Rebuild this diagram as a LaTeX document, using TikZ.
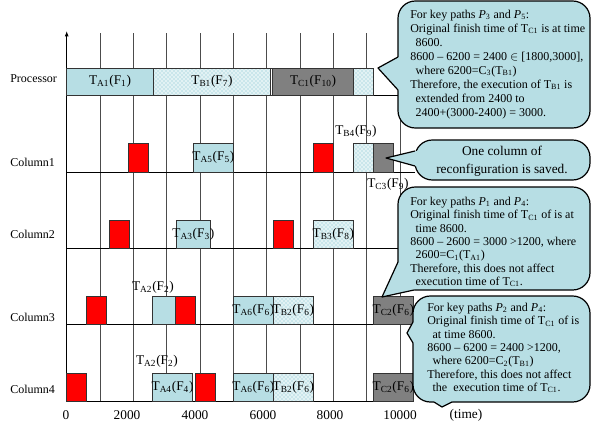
\documentclass[tikz,border=0pt]{standalone}
\usepackage{fontspec}
\setmainfont{Liberation Serif}
\usetikzlibrary{patterns,arrows.meta}

\definecolor{paleblue}{RGB}{183,222,228}
\definecolor{hatchblue}{RGB}{125,192,206}
\definecolor{hatchbg}{RGB}{226,242,244}
\definecolor{slotgray}{RGB}{128,128,128}

\tikzset{
  taskA/.style={draw=black!80, line width=0.6pt, fill=paleblue},
  taskB/.style={draw=black!80, line width=0.6pt, preaction={fill=hatchbg}, pattern=crosshatch dots, pattern color=hatchblue},
  taskC/.style={draw=black!80, line width=0.6pt, fill=slotgray},
  reconf/.style={draw=black!80, line width=0.6pt, fill=red},
  gapbox/.style={draw=black!80, line width=0.6pt, fill=white},
  tlabel/.style={font=\fontsize{10}{12}\selectfont, inner sep=0pt},
  rowlabel/.style={font=\fontsize{9}{11}\selectfont, anchor=west, inner sep=0pt},
  ticklabel/.style={font=\fontsize{10}{12}\selectfont, inner sep=0pt},
  gridline/.style={black!70, line width=0.6pt},
  rowline/.style={black, line width=0.7pt},
  axisline/.style={black, line width=0.7pt, -{Latex[length=4pt,width=3pt]}},
  bubble/.style={fill=paleblue, draw=black, line width=0.9pt, rounded corners=13},
  tailline/.style={draw=black, line width=0.9pt, line join=round},
  bubbletext/.style={align=left, anchor=north west, inner sep=0pt},
}

% task label: T_x(F_y)
\newcommand\Tf[2]{T\textsubscript{#1}(F\textsubscript{#2})}
% boxes on the time axis: name, style, start, end (time units), top, bottom (px)
\newcommand\plainbox[6]{%
  \node[#2, anchor=north west, inner sep=0pt, outer sep=0pt,
        minimum width={((#4)-(#3))*0.025pt}, minimum height={((#6)-(#5))*0.75pt}]
        (#1) at ({66.7+(#3)/30},#5) {};}
\newcommand\taskbox[7]{%
  \plainbox{#1}{#2}{#3}{#4}{#5}{#6}%
  \node[tlabel] (#1-t) at (#1.center) {#7};}

\begin{document}
\begin{tikzpicture}[x=0.75pt,y=-0.75pt]
\useasboundingbox (0,0) rectangle (592,425);

% time grid, one line every 1000
\foreach \k in {1,...,10}
  \draw[gridline] ({66.7+\k*33.333},33) -- ({66.7+\k*33.333},401);

% vertical axis
\coordinate (origin) at (66.7,401);
\coordinate (axtop) at (66.7,31);
\draw[axisline] (origin) -- (axtop);

% row base lines
\draw[rowline] (66.7,95) -- (400,95);
\draw[rowline] (66.7,172) -- (415,172);
\draw[rowline] (66.7,248) -- (398,248);
\draw[rowline] (66.7,324) -- (413,324);
\draw[rowline] (66.7,401) -- (413,401);

% row names
\node[rowlabel] (lproc) at (10,79) {Processor};
\node[rowlabel] (lcol1) at (10,162) {Column1};
\node[rowlabel] (lcol2) at (10,234) {Column2};
\node[rowlabel] (lcol3) at (10,317) {Column3};
\node[rowlabel] (lcol4) at (10,389) {Column4};

% processor
\taskbox{ta1}{taskA}{0}{2600}{68}{95}{\Tf{A1}{1}}
\taskbox{tb1}{taskB}{2600}{6120}{68}{95}{\Tf{B1}{7}}
\plainbox{gp}{gapbox}{6120}{6180}{68}{95}
\taskbox{tc1}{taskC}{6180}{8600}{68}{95}{\Tf{C1}{10}}
\plainbox{tbx}{taskB}{8600}{9200}{68}{95}

% column 1
\plainbox{r11}{reconf}{1850}{2450}{143}{172}
\taskbox{ta5}{taskA}{3800}{5000}{143}{172}{\Tf{A5}{5}}
\plainbox{r12}{reconf}{7400}{8000}{143}{172}
\plainbox{tb4}{taskB}{8600}{9200}{143}{172}
\plainbox{tc3}{taskC}{9200}{9800}{143}{172}
\node[tlabel] (tb4-t) at (356,131) {\Tf{B4}{9}};
\node[tlabel] (tc3-t) at (388,184) {\Tf{C3}{9}};

% column 2
\plainbox{r21}{reconf}{1270}{1870}{220}{248}
\taskbox{ta3}{taskA}{3300}{4300}{220}{248}{\Tf{A3}{3}}
\plainbox{r22}{reconf}{6200}{6800}{220}{248}
\taskbox{tb3}{taskB}{7400}{8600}{220}{248}{\Tf{B3}{8}}

% column 3
\plainbox{r31}{reconf}{600}{1200}{296}{324}
\plainbox{ta2}{taskA}{2570}{3270}{296}{324}
\plainbox{r32}{reconf}{3270}{3870}{296}{324}
\taskbox{ta6a}{taskA}{5000}{6200}{296}{324}{\Tf{A6}{6}}
\taskbox{tb2a}{taskB}{6200}{7400}{296}{324}{\Tf{B2}{6}}
\taskbox{tc2a}{taskC}{9200}{10400}{296}{324}{\Tf{C2}{6}}
\node[tlabel] (ta2-t) at (153,287) {\Tf{A2}{2}};

% column 4
\plainbox{r41}{reconf}{0}{600}{373}{401}
\taskbox{ta4}{taskA}{2570}{3780}{373}{401}{\Tf{A4}{4}}
\plainbox{r42}{reconf}{3850}{4450}{373}{401}
\taskbox{ta6b}{taskA}{5000}{6200}{373}{401}{\Tf{A6}{6}}
\taskbox{tb2b}{taskB}{6200}{7400}{373}{401}{\Tf{B2}{6}}
\taskbox{tc2b}{taskC}{9200}{10400}{373}{401}{\Tf{C2}{6}}
\node[tlabel] (ta2b-t) at (157,361) {\Tf{A2}{2}};

% time axis labels
\node[ticklabel] (x0) at (66,415) {0};
\node[ticklabel] (x2) at (127,415) {2000};
\node[ticklabel] (x4) at (195,415) {4000};
\node[ticklabel] (x6) at (263,415) {6000};
\node[ticklabel] (x8) at (330,415) {8000};
\node[ticklabel] (x10) at (400,415) {10000};
\node[ticklabel] (xt) at (466,415) {(time)};

% note: paths P3 and P5
\draw[bubble] (398,1) rectangle (590,128);
\fill[paleblue] (378,68) -- (398,57) -- (401,57) -- (401,90) -- (398,90) -- cycle;
\draw[tailline] (398,57) -- (378,68) -- (398,90);
\node[bubbletext, font=\fontsize{9}{10.5}\selectfont] (noteA) at (410,10) {%
For key paths \textit{P}\textsubscript{3} and \textit{P}\textsubscript{5}:\\
Original finish time of T\textsubscript{C1} is at time\\
\hspace*{4pt}8600.\\
8600 -- 6200 = 2400 $\in$ [1800,3000],\\
\hspace*{4pt}where 6200=C\textsubscript{3}(T\textsubscript{B1})\\
Therefore, the execution of T\textsubscript{B1} is\\
\hspace*{4pt}extended from 2400 to\\
\hspace*{4pt}2400+(3000-2400) = 3000.};

% note: saved column
\draw[bubble] (415,140) rectangle (590,180);
\fill[paleblue] (386,158) -- (415,151) -- (418,151) -- (418,166) -- (415,166) -- cycle;
\draw[tailline] (415,151) -- (386,158) -- (415,166);
\node[align=center, inner sep=0pt, font=\fontsize{10}{13.5}\selectfont] (noteB) at (502,161)
  {One column of\\reconfiguration is saved.};

% note: paths P1 and P4
\draw[bubble] (398,187) rectangle (590,290);
\fill[paleblue] (382,297) -- (398,262) -- (405,262) -- (405,283) -- (414,283) -- (414,290) -- cycle;
\draw[tailline] (398,262) -- (382,297) -- (414,290);
\node[bubbletext, font=\fontsize{9}{10}\selectfont] (noteC) at (410,197) {%
For key paths \textit{P}\textsubscript{1} and \textit{P}\textsubscript{4}:\\
Original finish time of T\textsubscript{C1} of is at\\
\hspace*{4pt}time 8600.\\
8600 -- 2600 = 3000 >1200, where\\
\hspace*{4pt}2600=C\textsubscript{1}(T\textsubscript{A1})\\
Therefore, this does not affect\\
\hspace*{4pt}execution time of T\textsubscript{C1}.};

% note: paths P2 and P4
\draw[bubble] (413,296) rectangle (590,402);
\fill[paleblue] (407,333) -- (413,322) -- (416,322) -- (416,343) -- (413,343) -- cycle;
\draw[tailline] (413,322) -- (407,333) -- (413,343);
\fill[paleblue] (442,407) -- (434,402) -- (434,399) -- (452,399) -- (452,402) -- cycle;
\draw[tailline] (434,402) -- (442,407) -- (452,402);
\node[bubbletext, font=\fontsize{9}{10}\selectfont] (noteD) at (427,303) {%
For key paths \textit{P}\textsubscript{2} and \textit{P}\textsubscript{4}:\\
Original finish time of T\textsubscript{C1} of is\\
\hspace*{4pt}at time 8600.\\
8600 -- 6200 = 2400 >1200,\\
\hspace*{4pt}where 6200=C\textsubscript{2}(T\textsubscript{B1})\\
Therefore, this does not affect\\
\hspace*{4pt}the\ \ execution time of T\textsubscript{C1}.};
\end{tikzpicture}
\end{document}
